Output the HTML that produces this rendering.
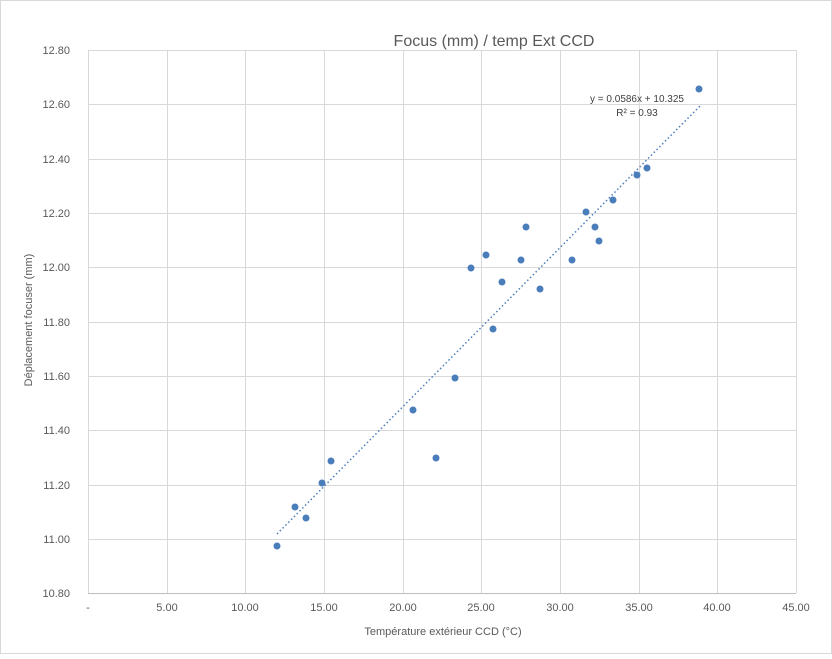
<!DOCTYPE html><html><head><style>body{margin:0;background:#fff}</style></head><body>
<svg width="832" height="654" xmlns="http://www.w3.org/2000/svg" font-family="Liberation Sans, sans-serif">
<rect x="0.5" y="0.5" width="831" height="653" fill="#fff" stroke="#d9d9d9"/>
<g stroke="#d9d9d9" stroke-width="1">
<line x1="88" y1="50.5" x2="796" y2="50.5"/><line x1="88" y1="104.5" x2="796" y2="104.5"/><line x1="88" y1="159.5" x2="796" y2="159.5"/><line x1="88" y1="213.5" x2="796" y2="213.5"/><line x1="88" y1="267.5" x2="796" y2="267.5"/><line x1="88" y1="322.5" x2="796" y2="322.5"/><line x1="88" y1="376.5" x2="796" y2="376.5"/><line x1="88" y1="430.5" x2="796" y2="430.5"/><line x1="88" y1="485.5" x2="796" y2="485.5"/><line x1="88" y1="539.5" x2="796" y2="539.5"/>
<line x1="88.5" y1="50" x2="88.5" y2="593"/><line x1="167.5" y1="50" x2="167.5" y2="593"/><line x1="245.5" y1="50" x2="245.5" y2="593"/><line x1="324.5" y1="50" x2="324.5" y2="593"/><line x1="403.5" y1="50" x2="403.5" y2="593"/><line x1="481.5" y1="50" x2="481.5" y2="593"/><line x1="560.5" y1="50" x2="560.5" y2="593"/><line x1="639.5" y1="50" x2="639.5" y2="593"/><line x1="717.5" y1="50" x2="717.5" y2="593"/><line x1="796.5" y1="50" x2="796.5" y2="593"/>
</g>
<line x1="88" y1="593.5" x2="796" y2="593.5" stroke="#bfbfbf"/>
<text x="494" y="46" font-size="16" fill="#595959" text-anchor="middle">Focus (mm) / temp Ext CCD</text>
<g font-size="11" fill="#595959" text-anchor="end">
<text x="70" y="54">12.80</text><text x="70" y="108">12.60</text><text x="70" y="163">12.40</text><text x="70" y="217">12.20</text><text x="70" y="271">12.00</text><text x="70" y="326">11.80</text><text x="70" y="380">11.60</text><text x="70" y="434">11.40</text><text x="70" y="489">11.20</text><text x="70" y="543">11.00</text><text x="70" y="597">10.80</text>
</g>
<g font-size="11" fill="#595959" text-anchor="middle">
<text x="88" y="611">-</text><text x="167" y="611">5.00</text><text x="245" y="611">10.00</text><text x="324" y="611">15.00</text><text x="403" y="611">20.00</text><text x="481" y="611">25.00</text><text x="560" y="611">30.00</text><text x="639" y="611">35.00</text><text x="717" y="611">40.00</text><text x="796" y="611">45.00</text>
</g>
<text x="443" y="635" font-size="11" fill="#595959" text-anchor="middle">Température extérieur CCD (°C)</text>
<text transform="translate(32,320) rotate(-90)" font-size="11" fill="#595959" text-anchor="middle">Déplacement focuser (mm)</text>
<line x1="277" y1="534" x2="700" y2="106" stroke="#4a7ebb" stroke-width="1.5" stroke-dasharray="1.5,2.5"/>
<g fill="#4a7ebb">
<circle cx="277" cy="546" r="3.5"/><circle cx="295" cy="507" r="3.5"/><circle cx="306" cy="518" r="3.5"/><circle cx="322" cy="483" r="3.5"/><circle cx="331" cy="461" r="3.5"/><circle cx="413" cy="410" r="3.5"/><circle cx="436" cy="458" r="3.5"/><circle cx="455" cy="378" r="3.5"/><circle cx="471" cy="268" r="3.5"/><circle cx="486" cy="255" r="3.5"/><circle cx="493" cy="329" r="3.5"/><circle cx="502" cy="282" r="3.5"/><circle cx="521" cy="260" r="3.5"/><circle cx="526" cy="227" r="3.5"/><circle cx="540" cy="289" r="3.5"/><circle cx="572" cy="260" r="3.5"/><circle cx="586" cy="212" r="3.5"/><circle cx="595" cy="227" r="3.5"/><circle cx="599" cy="241" r="3.5"/><circle cx="613" cy="200" r="3.5"/><circle cx="637" cy="175" r="3.5"/><circle cx="647" cy="168" r="3.5"/><circle cx="699" cy="89" r="3.5"/>
</g>
<text x="637" y="102" font-size="10" fill="#404040" text-anchor="middle">y = 0.0586x + 10.325</text>
<text x="637" y="116" font-size="10" fill="#404040" text-anchor="middle">R² = 0.93</text>
</svg>
</body></html>
